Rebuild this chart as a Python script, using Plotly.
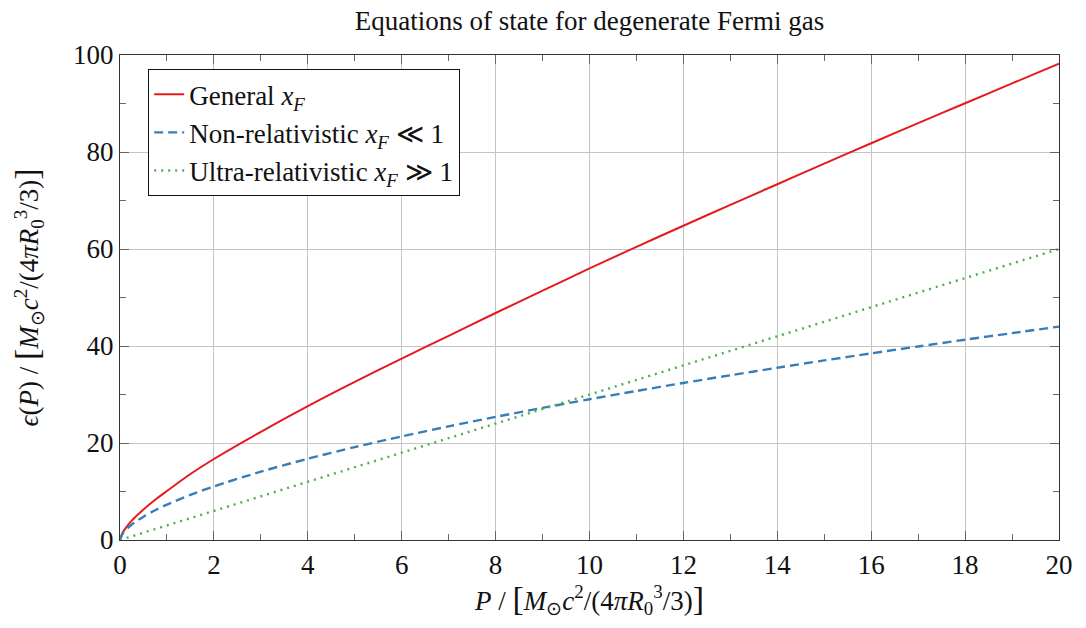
import plotly.graph_objects as go

# Pressure grid (in units of M_sun c^2 / (4 pi R0^3 / 3))
p_general = [0, 0.05, 0.1, 0.25, 0.5, 0.75, 1, 1.5, 2, 3, 4, 5, 6, 7, 8, 9, 10,
             11, 12, 13, 14, 15, 16, 17, 18, 19, 20]
eps_general = [0, 1.4, 2.2, 4.0, 6.3, 8.3, 10.1, 13.6, 16.7, 22.3, 27.6, 32.6,
               37.4, 42.1, 46.8, 51.4, 56.0, 60.45, 64.8, 69.1, 73.35, 77.6,
               81.8, 85.95, 90.05, 94.15, 98.2]

p_nonrel = [0, 0.05, 0.1, 0.2, 0.3, 0.5, 0.75, 1, 1.5, 2, 3, 4, 5, 6, 7, 8, 9,
            10, 11, 12, 13, 14, 15, 16, 17, 18, 19, 20]
eps_nonrel = [0, 1.21, 1.83, 2.78, 3.54, 4.81, 6.13, 7.29, 9.30, 11.05, 14.09,
              16.75, 19.15, 21.36, 23.43, 25.38, 27.24, 29.02, 30.73, 32.38,
              33.97, 35.52, 37.03, 38.48, 39.90, 41.30, 42.65, 44.0]

p_ultrarel = [0, 5, 10, 15, 20]
eps_ultrarel = [0, 15, 30, 45, 60]

x_ticks = [0, 2, 4, 6, 8, 10, 12, 14, 16, 18, 20]
y_ticks = [0, 20, 40, 60, 80, 100]

RED = "#e41a1c"
BLUE = "#377eb8"
GREEN = "#4daf4a"
FONT = "Liberation Serif"
FS = 27
INK = "#111111"

xf = "<i>x</i><sub><i>F</i></sub>"
big = '<span style="font-size:34px">{}</span>'
unit = (big.format("[") + "<i>M</i><sub>\u2299</sub><i>c</i><sup>2</sup>"
        "/(4<i>\u03c0R</i><sub>0</sub><sup>3</sup>/3)" + big.format("]"))

fig = go.Figure()
fig.add_trace(go.Scatter(
    x=p_general, y=eps_general, mode="lines", name="General " + xf,
    line=dict(color=RED, width=2, shape="spline", smoothing=0.8),
))
fig.add_trace(go.Scatter(
    x=p_nonrel, y=eps_nonrel, mode="lines",
    name="Non-relativistic " + xf + " \u226a 1",
    line=dict(color=BLUE, width=2.4, dash="9px,5px", shape="spline",
              smoothing=0.8),
))
fig.add_trace(go.Scatter(
    x=p_ultrarel, y=eps_ultrarel, mode="lines",
    name="Ultra-relativistic " + xf + " \u226b 1",
    line=dict(color=GREEN, width=2.4, dash="2px,5px"),
))

axis_common = dict(
    showline=True, linecolor="#333333", linewidth=1.4, mirror="ticks",
    ticks="inside", ticklen=9, tickcolor="#666666", tickwidth=1,
    showgrid=True, gridcolor="#c4c4c4", gridwidth=1,
    zeroline=False,
    tickfont=dict(family=FONT, size=FS, color=INK),
)

fig.update_xaxes(
    range=[0, 20], tickvals=x_ticks, ticktext=[str(v) for v in x_ticks],
    minor=dict(ticks="inside", ticklen=6, dtick=1, tick0=0,
               tickcolor="#666666", showgrid=False),
    title=dict(text="<i>P</i> / " + unit,
               font=dict(family=FONT, size=FS, color=INK), standoff=4),
    **axis_common,
)
fig.update_yaxes(
    range=[0, 100], tickvals=y_ticks, ticktext=[str(v) for v in y_ticks],
    minor=dict(ticks="inside", ticklen=6, dtick=10, tick0=0,
               tickcolor="#666666", showgrid=False),
    title=dict(text="<i>\u03f5</i>(<i>P</i>) / " + unit,
               font=dict(family=FONT, size=FS, color=INK), standoff=26),
    **axis_common,
)

fig.update_layout(
    width=1086, height=628,
    margin=dict(l=120, r=27, t=55, b=88),
    paper_bgcolor="white", plot_bgcolor="white",
    title=dict(text="Equations of state for degenerate Fermi gas",
               font=dict(family=FONT, size=FS, color=INK),
               x=0.5, xanchor="center", y=0.968, yanchor="middle",
               xref="paper", yref="container"),
    legend=dict(
        x=0.0298, y=0.971, xanchor="left", yanchor="top",
        bgcolor="white", bordercolor=INK, borderwidth=1.2,
        font=dict(family=FONT, size=FS, color=INK),
        tracegroupgap=0,
    ),
    showlegend=True,
)

fig.write_html("out.html")
